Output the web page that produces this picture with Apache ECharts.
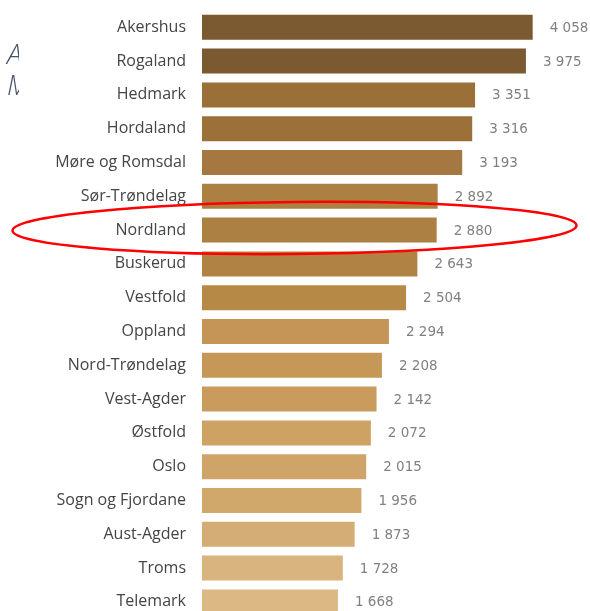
<!DOCTYPE html>
<html>
<head>
<meta charset="utf-8">
<script src="https://cdn.jsdelivr.net/npm/echarts@6/dist/echarts.min.js"></script>
<style>
html,body{margin:0;padding:0;background:#fff;overflow:hidden;}
#chart{width:590px;height:625px;}
</style>
</head>
<body>
<div id="chart"></div>
<script>
const categories = ["Akershus","Rogaland","Hedmark","Hordaland","Møre og Romsdal","Sør-Trøndelag","Nordland","Buskerud","Vestfold","Oppland","Nord-Trøndelag","Vest-Agder","Østfold","Oslo","Sogn og Fjordane","Aust-Agder","Troms","Telemark"];
const values = [4058,3975,3351,3316,3193,2892,2880,2643,2504,2294,2208,2142,2072,2015,1956,1873,1728,1668];
const highlighted = "Nordland";

const barColors = ["#7b5a31","#7c5a31","#9a7038","#9c7139","#a47840","#ac7f42","#ac7f42","#b08345","#b78946","#c49556","#c69858","#c99c5d","#cda263","#cfa468","#d1a86b","#d4ac76","#d9b47f","#dcb885"];

function fmt(v){ return String(v).replace(/\B(?=(\d{3})+(?!\d))/g, ' '); }

const chart = echarts.init(document.getElementById('chart'), null, {renderer:'canvas'});
const rowPitch = 33.8;

chart.setOption({
  animation:false,
  backgroundColor:'#ffffff',
  grid:{left:202, top:10.4, height:rowPitch*categories.length, right:21.3, containLabel:false},
  xAxis:{type:'value', min:0, max:4500, show:false},
  yAxis:{
    type:'category', data:categories, inverse:true,
    axisLine:{show:false}, axisTick:{show:false}, splitLine:{show:false},
    axisLabel:{margin:16, color:'#444444', fontFamily:'Open Sans', fontSize:16}
  },
  series:[{
    type:'bar',
    data:values.map((v,i)=>({value:v, itemStyle:{color:barColors[i]}})),
    barWidth:25,
    label:{show:true, position:'right', distance:17, offset:[0,1], color:'#808080', fontFamily:'DejaVu Sans', fontSize:13.5,
      formatter:p=>fmt(p.value)}
  }],
  graphic:[
    {type:'text', left:7, top:43, z:1, style:{text:'A', font:'italic 300 27px "Open Sans"', fill:'#44546a'}},
    {type:'text', left:7, top:74, z:1, style:{text:'M', font:'italic 300 27px "Open Sans"', fill:'#44546a'}},
    {type:'rect', shape:{x:19, y:38, width:28, height:68}, z:2, style:{fill:'#ffffff'}},
    {type:'ellipse', z:100, shape:{cx:294.5, cy:228, rx:282, ry:26}, originX:294.5, originY:228, rotation:0.009,
      style:{fill:'none', stroke:'#ff0000', lineWidth:2.5}}
  ]
});
</script>
</body>
</html>
